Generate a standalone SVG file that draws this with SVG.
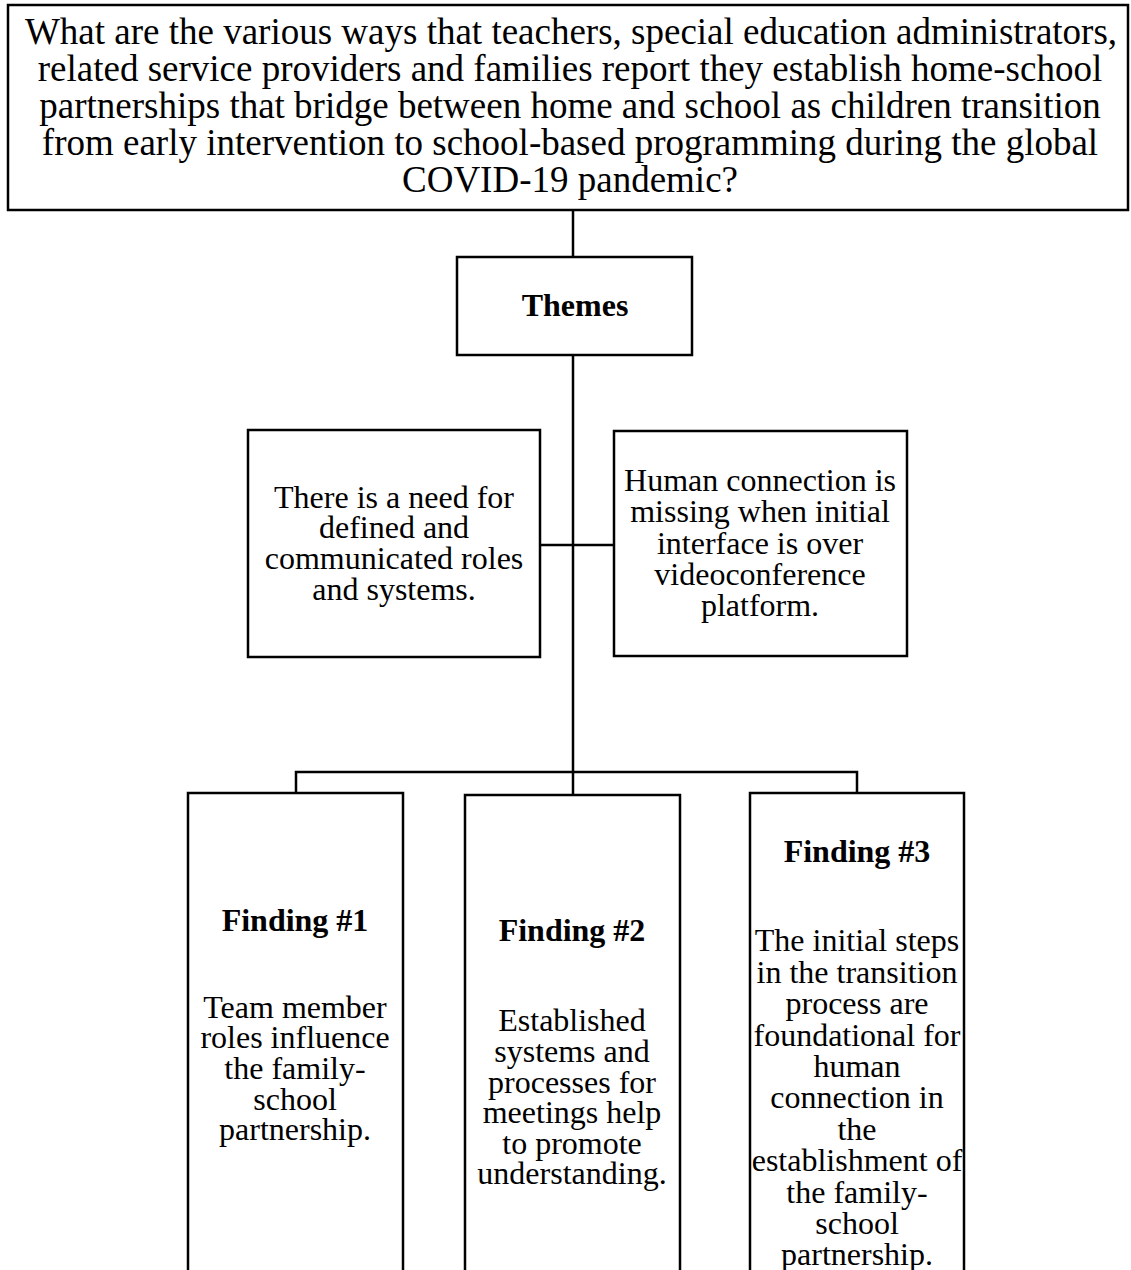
<svg xmlns="http://www.w3.org/2000/svg" width="1131" height="1270" viewBox="0 0 1131 1270">
<style>
.box{fill:#fff;stroke:#000;stroke-width:2.5}
.t{font-family:"Liberation Serif","Times New Roman",serif;font-size:32px;fill:#000;text-anchor:middle}
.q{font-size:37px}
.b{font-weight:bold}
.c{fill:none;stroke:#000;stroke-width:2.5}
</style>
<rect width="1131" height="1270" fill="#fff"/>
<g id="connectors">
<line class="c" x1="573" y1="210" x2="573" y2="257"/>
<line class="c" x1="573" y1="355" x2="573" y2="772"/>
<line class="c" x1="540" y1="545" x2="614" y2="545"/>
<polyline class="c" points="296,793 296,772 857,772 857,793"/>
<line class="c" x1="573" y1="772" x2="573" y2="795"/>
</g>
<g id="question">
<rect class="box" x="8" y="5" width="1120" height="205"/>
<text class="t q"><tspan x="571" y="44">What are the various ways that teachers, special education administrators,</tspan><tspan x="570" y="81">related service providers and families report they establish home-school</tspan><tspan x="570" y="118">partnerships that bridge between home and school as children transition</tspan><tspan x="570" y="155">from early intervention to school-based programming during the global</tspan><tspan x="570" y="192">COVID-19 pandemic?</tspan></text>
</g>
<g id="themes">
<rect class="box" x="457" y="257" width="235" height="98"/>
<text class="t b" x="575" y="316">Themes</text>
</g>
<g id="theme1">
<rect class="box" x="248" y="430" width="292" height="227"/>
<text class="t"><tspan x="394" y="508">There is a need for</tspan><tspan x="394" y="538">defined and</tspan><tspan x="394" y="569">communicated roles</tspan><tspan x="394" y="600">and systems.</tspan></text>
</g>
<g id="theme2">
<rect class="box" x="614" y="431" width="293" height="225"/>
<text class="t"><tspan x="760" y="491">Human connection is</tspan><tspan x="760" y="522">missing when initial</tspan><tspan x="760" y="554">interface is over</tspan><tspan x="760" y="585">videoconference</tspan><tspan x="760" y="616">platform.</tspan></text>
</g>
<g id="finding1">
<rect class="box" x="188" y="793" width="215" height="490"/>
<text class="t b" x="295" y="931">Finding #1</text>
<text class="t"><tspan x="295" y="1018">Team member</tspan><tspan x="295" y="1048">roles influence</tspan><tspan x="295" y="1079">the family-</tspan><tspan x="295" y="1110">school</tspan><tspan x="295" y="1140">partnership.</tspan></text>
</g>
<g id="finding2">
<rect class="box" x="465" y="795" width="215" height="490"/>
<text class="t b" x="572" y="941">Finding #2</text>
<text class="t"><tspan x="572" y="1031">Established</tspan><tspan x="572" y="1062">systems and</tspan><tspan x="572" y="1093">processes for</tspan><tspan x="572" y="1123">meetings help</tspan><tspan x="572" y="1154">to promote</tspan><tspan x="572" y="1184">understanding.</tspan></text>
</g>
<g id="finding3">
<rect class="box" x="750" y="793" width="214" height="490"/>
<text class="t b" x="857" y="862">Finding #3</text>
<text class="t"><tspan x="857" y="951">The initial steps</tspan><tspan x="857" y="983">in the transition</tspan><tspan x="857" y="1014">process are</tspan><tspan x="857" y="1046">foundational for</tspan><tspan x="857" y="1077">human</tspan><tspan x="857" y="1108">connection in</tspan><tspan x="857" y="1140">the</tspan><tspan x="857" y="1171">establishment of</tspan><tspan x="857" y="1203">the family-</tspan><tspan x="857" y="1234">school</tspan><tspan x="857" y="1265">partnership.</tspan></text>
</g>
</svg>
